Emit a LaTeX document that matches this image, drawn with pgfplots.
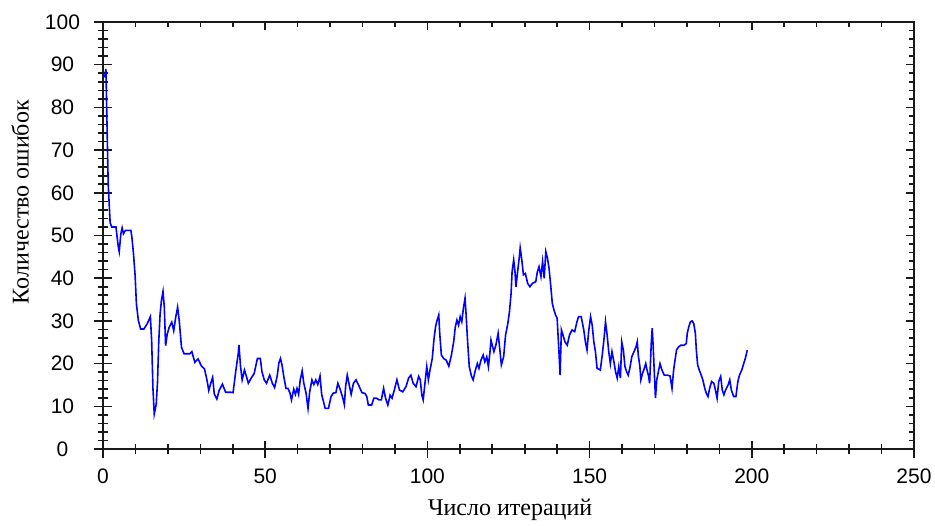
\documentclass[border=0pt]{standalone}
\usepackage{fontspec}
\setmainfont{Liberation Serif}
\setsansfont{Liberation Sans}
\usepackage{pgfplots}
\pgfplotsset{compat=1.18}
\definecolor{axisdark}{RGB}{25,25,25}
\definecolor{lineblue}{RGB}{0,0,255}

\pgfplotsset{
  errbox/.style={
    width=405.5pt, height=213.5pt, scale only axis,
    xmin=0, xmax=250, ymin=0, ymax=100,
    xtick distance=50, ytick distance=10,
    minor x tick num=4, minor y tick num=4,
    axis line style={line width=1pt, draw=axisdark},
    every tick/.style={line width=0.8pt, draw=axisdark},
    /pgf/number format/assume math mode=true,
  }
}

\begin{document}
\begin{tikzpicture}
\useasboundingbox (-51.5pt,-38pt) rectangle (416pt,224.5pt);
\begin{axis}[errbox,
  tick align=center, xtick pos=lower, ytick pos=left,
  major tick length=8.5pt, minor tick length=5pt,
  tick label style={font=\sffamily\fontsize{10.5}{12}\selectfont, text=black},
  xticklabel style={anchor=center, yshift=-9.5pt},
  yticklabel style={anchor=center, xshift=-16pt},
  label style={font=\fontsize{12}{14}\selectfont},
  xlabel={Число итераций},
  ylabel={Количество ошибок},
  xlabel style={at={(axis description cs:0.502,-0.143)}, anchor=center},
  ylabel style={at={(axis description cs:-0.1023,0.578)}, anchor=center},
]
\addplot[lineblue, line width=0.8pt] coordinates {
(0.5,87) (0.9,89) (1.6,62) (2.2,53) (2.7,52) (4,52) (4.7,47.4) (5,46.2) (5.5,50.4) (5.9,51.8)
(6.3,50.4) (6.9,51.2) (8.6,51.2) (8.9,49.6) (9.4,45.7) (9.9,40.6) (10.3,34) (10.9,30.1) (11.6,28.1) (12.6,28.1)
(13.6,29.3) (14.6,31) (15,25.4) (15.4,14.1) (15.8,8.2) (16.4,10.5) (16.8,15.6) (17.2,25.4) (17.6,31.6) (18,34.7)
(18.5,36.9) (18.9,33.2) (19.3,24.2) (19.8,26.9) (20.4,28.5) (21.2,29.7) (21.8,27.7) (22.4,30.8) (23,33.2) (23.5,30.1)
(24.2,23.8) (25,22.3) (26.7,22.3) (27.4,22.8) (28.3,20.3) (29.3,21.1) (30.3,19.5) (31.3,18.7) (32.1,16) (32.6,13.7)
(33.3,15.6) (33.8,16.8) (34.3,12.9) (35.1,11.7) (35.8,13.7) (36.8,15.2) (37.8,13.3) (39.3,13.3) (40.1,13.2)
(40.9,18.1) (41.7,22.4) (41.9,24.4) (42.4,19.3) (42.9,16.2) (43.6,18.5) (44.1,17.3) (44.8,15.4) (45.6,16.5) (46.6,17.7)
(47.6,21.2) (48.5,21.2) (49,18.1) (49.7,16.2) (50.4,15.4) (51.4,17.3) (52.2,15.4) (52.9,14.4) (53.7,17.1) (54.2,20.1)
(54.7,21.2) (55.2,19.6) (55.7,17.1) (56.4,14.2) (57,14.2) (57.6,13.2) (58.1,11.5) (58.8,14) (59.3,12.8) (59.8,14.2)
(60.3,12.8) (60.8,16.2) (61.4,18.3) (61.9,15.4) (62.6,13.1) (63.2,9.5) (63.7,13.3) (64.4,16.2) (65,15.1) (65.6,16.2)
(66.2,15.1) (66.9,17.1) (67.4,12.8) (68.5,9.5) (69.5,9.5) (70.3,12.3) (71,13.1) (71.8,13.2) (72.4,15.4) (73.1,14)
(73.9,12) (74.4,10.4) (74.8,14.8) (75.3,17.3) (75.8,15.4) (76.5,12.8) (77.2,15.4) (78,16.2) (78.9,14.8) (79.8,13.2)
(80.8,13) (81.3,12.3) (81.8,10.3) (82.8,10.3) (83.5,11.9) (84.3,11.9) (85.1,11.5) (85.8,11.5) (86.5,14.2) (87.1,11.9)
(87.8,10.3) (88.5,12.6) (89.1,11.9) (89.8,13.8) (90.6,16.2) (91.4,13.8) (92.4,13.4) (93.4,14.6) (94.2,16.6) (94.9,17.3)
(95.6,15.4) (96.5,14.6) (97.3,17) (97.8,16.2) (98.3,12.6) (98.7,11.5) (99.3,15.8) (99.8,19.3) (100.3,16.2) (100.8,18.5)
(101.5,21.2) (102,25.5) (102.5,28.6) (103,30.2) (103.5,31.4) (103.8,27.1) (104.3,22) (105,21.2) (105.8,20.8) (106.6,19.4)
(107.4,22) (108.1,25.1) (108.6,28.6) (109.1,30.2) (109.6,29) (110.1,31) (110.6,29.8) (111.1,33) (111.6,35.3) (111.9,31.8)
(112.4,25.1) (112.9,19.3) (113.6,17) (114.1,16.2) (114.8,18.5) (115.4,20) (115.9,18.9) (116.5,20.8) (117.2,22) (117.7,20.4)
(118.3,21.6) (118.8,19.3) (119.3,22.8) (119.6,25.5) (120.5,22.8) (121.1,24.3) (121.5,25.9) (121.8,27.1) (122.3,23.5) (122.8,19.7)
(123.5,21.6) (124.1,26.7) (124.8,29.4) (125.3,32.2) (125.8,36.5) (126.1,41.5) (126.6,44.3) (127,41.5) (127.3,38) (127.8,41.5)
(128.4,45.4) (128.6,47.1) (129.1,44.3) (129.6,40.8) (130.2,41.1) (130.9,38.8) (131.6,38) (132.4,38.8) (133.4,39.2) (133.9,41.5)
(134.4,42.7) (135,40.4) (135.5,43.9) (136,40) (136.5,46.2) (137,44.7) (137.5,42.3) (138,38.4) (138.5,34.1) (139,32.6)
(139.5,31.4) (140,30.6) (140.6,22) (140.9,17.3) (141.3,27.9) (141.8,26.7) (142.4,25.1) (143.1,24.3) (143.8,26.7) (144.6,27.9)
(145.4,27.5) (146.1,29.8) (146.6,31) (147.4,31) (148.2,27.9) (148.7,25.1) (149.2,23.2) (149.7,27.5) (150.3,31) (150.8,29)
(151.3,25.1) (151.8,22.8) (152.3,18.9) (153.3,18.5) (153.9,22) (154.4,25.5) (154.9,29.8) (155.4,26.7) (155.9,22.8) (156.4,20)
(156.9,22.8) (157.5,20.4) (158,18.1) (158.5,16.6) (159,19.3) (159.5,16.6) (159.9,25.1) (160.4,23.2) (160.9,19.3) (161.4,18.1)
(161.9,17.3) (162.5,19.3) (163,21.6) (163.7,22.8) (164.3,23.9) (164.7,25.1) (165,22) (165.5,19.3) (165.8,16.2) (166.3,17.7)
(166.7,18.5) (167.3,20) (167.7,18.5) (168.2,17) (168.5,15.4) (169,24.7) (169.3,28.3) (169.6,24) (170,17) (170.3,11.9)
(170.7,16.2) (171.2,18.1) (171.7,20) (172.3,18.5) (173,17.3) (174,17.3) (174.8,17.1) (175.4,14.2) (175.9,18.5) (176.4,21.2)
(176.8,23.2) (177.4,23.9) (178.1,24.3) (179.1,24.3) (179.8,24.7) (180.1,27.1) (180.6,28.7) (181.1,29.8) (181.6,30) (182.1,29.4)
(182.6,27.1) (182.9,23.2) (183.3,19.7) (183.8,18.5) (184.4,17.3) (184.9,16.2) (185.5,14.2) (186,13) (186.5,12.3) (187,14.2)
(187.6,15.8) (188.3,15.4) (188.8,13.8) (189.3,11.9) (189.8,15.8) (190.4,17) (190.9,13.8) (191.4,12.7) (191.9,13.8) (192.7,15)
(193.2,16.2) (193.7,13.8) (194.4,12.3) (195.1,12.3) (195.7,15.8) (196.2,17.3) (196.9,18.5) (197.5,20) (198,21.2) (198.6,23.2)
};
\end{axis}
% inward ticks on the top and right sides
\begin{axis}[errbox,
  axis line style={draw=none},
  tick align=inside, xtick pos=upper, ytick pos=right,
  major tick length=4.25pt, minor tick length=2.5pt,
  xticklabels={}, yticklabels={},
]
\end{axis}
\end{tikzpicture}
\end{document}
